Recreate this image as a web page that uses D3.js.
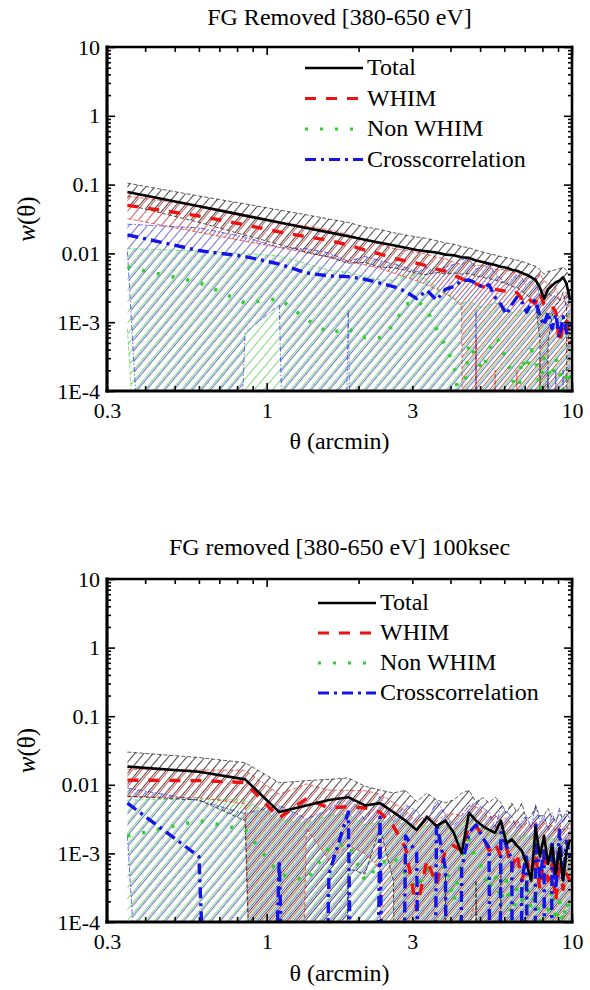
<!DOCTYPE html>
<html>
<head>
<meta charset="utf-8">
<script src="https://cdn.jsdelivr.net/npm/d3@7"></script>
<style>
  body { margin: 0; background: #fff; }
  text { font-family: "Liberation Serif", "Times New Roman", serif; fill: #000; }
</style>
</head>
<body>
<div id="chart"></div>
<script>
// angular bins (arcmin), shared by both panels
var theta = [0.35, 0.60, 0.85, 1.10, 1.35, 1.60, 1.85, 2.10, 2.35, 2.60, 2.85, 3.10, 3.35, 3.60, 3.85, 4.10, 4.35, 4.60, 4.85, 5.10,
  5.35, 5.60, 5.85, 6.10, 6.35, 6.60, 6.85, 7.10, 7.35, 7.60, 7.85, 8.10, 8.35, 8.60, 8.85, 9.10, 9.35, 9.60, 9.85];

// ---- top panel: FG Removed [380-650 eV]
var titleA = "FG Removed [380-650 eV]";
var totalA = [0.078, 0.0483, 0.0354, 0.0281, 0.0234, 0.0202, 0.0177, 0.0158, 0.0143, 0.0131, 0.0121, 0.0112, 0.0107, 0.0103, 0.0096, 0.0094, 0.0088, 0.0086, 0.0079, 0.0075,
  0.0071, 0.0068, 0.0064, 0.0062, 0.0058, 0.0056, 0.0052, 0.0049, 0.0045, 0.0041, 0.0032, 0.0022, 0.0030, 0.0034, 0.0038, 0.0040, 0.0045, 0.0036, 0.0021];
var totalSigA = [0.027, 0.020, 0.017, 0.0146, 0.013, 0.0114, 0.0105, 0.0084, 0.008, 0.0069, 0.0064, 0.0061, 0.0058, 0.0050, 0.0046, 0.0042, 0.0038, 0.0035, 0.0032, 0.0030,
  0.0028, 0.0027, 0.0026, 0.0025, 0.0025, 0.0024, 0.0024, 0.0024, 0.0023, 0.0024, 0.0026, 0.0028, 0.0025, 0.0022, 0.0020, 0.0020, 0.0018, 0.0020, 0.0022];
var whimA = [0.050, 0.035, 0.026, 0.0205, 0.0175, 0.0155, 0.0132, 0.0112, 0.0098, 0.0085, 0.0078, 0.0072, 0.0066, 0.0059, 0.0055, 0.0048, 0.0043, 0.0038, 0.0036, 0.0033,
  0.0031, 0.0030, 0.0029, 0.0028, 0.0026, 0.0027, 0.0022, 0.0025, 0.0020, 0.0019, 0.0027, 0.0018, 0.0016, 0.0017, 0.0014, 0.0005, 0.0009, 0.0011, 0.0005];
var whimSigA = [0.018, 0.0148, 0.011, 0.0083, 0.0073, 0.0066, 0.0056, 0.0044, 0.0038, 0.0033, 0.0033, 0.0032, 0.0031, 0.0029, 0.0029, 0.0026, 0.0026, 0.0040, 0.0030, 0.0035,
  0.0032, 0.0028, 0.0030, 0.0029, 0.0028, 0.0025, 0.0026, 0.0024, 0.0025, 0.0022, 0.0024, 0.0022, 0.0020, 0.0019, 0.0018, 0.0016, 0.0017, 0.0016, 0.0015];
var nonA = [0.0063, 0.0038, 0.0019, 0.0022, 0.0011, 0.0007, 0.0008, 0.0006, 0.0006, 0.0009, 0.0018, 0.0021, 0.0015, 0.0008, 0.00045, 0.00025, 0.00004, 0.0005, 0.0003, 0.0002,
  0.0004, 0.0006, 0.0005, 0.00025, 0.0002, 0.00005, 0.0003, 0.0002, 0.0004, 0.0003, 0.0001, 0.0003, 0.0002, 0.00015, 0.0003, 0.0002, 0.0001, 0.0002, 0.00015];
var nonSigA = [0.0055, 0.0070, 0.0080, 0.0070, 0.0060, 0.0050, 0.0045, 0.0040, 0.0035, 0.0032, 0.0030, 0.0028, 0.0026, 0.0024, 0.0022, 0.0020, 0.0018, 0.0016, 0.0015, 0.0014,
  0.0014, 0.0013, 0.0013, 0.0013, 0.0012, 0.0012, 0.0012, 0.0012, 0.0011, 0.0011, 0.0011, 0.0011, 0.0011, 0.0010, 0.0010, 0.0010, 0.0010, 0.0010, 0.0010];
var crossA = [0.0186, 0.0110, 0.0090, 0.0070, 0.0052, 0.0047, 0.0046, 0.0042, 0.0037, 0.0033, 0.0028, 0.0022, 0.0029, 0.0021, 0.0030, 0.0033, 0.0040, 0.0041, 0.0037, 0.0032,
  0.0035, 0.0023, 0.0018, 0.0013, 0.0018, 0.0023, 0.0020, 0.0014, 0.0019, 0.0021, 0.0012, 0.0009, 0.0014, 0.0008, 0.0013, 0.0006, 0.0012, 0.0007, 0.0010];
var crossSigA = [0.0080, 0.0125, 0.0083, 0.0052, 0.0065, 0.0055, 0.0031, 0.0048, 0.0042, 0.0038, 0.0035, 0.0032, 0.0034, 0.0030, 0.0034, 0.0036, 0.0042, 0.0042, 0.0022, 0.0034,
  0.0036, 0.0028, 0.0025, 0.0022, 0.0024, 0.0026, 0.0024, 0.0020, 0.0022, 0.0024, 0.0011, 0.0018, 0.0012, 0.0016, 0.0011, 0.0015, 0.0010, 0.0016, 0.0014];

// ---- bottom panel: FG removed [380-650 eV] 100ksec
var titleB = "FG removed [380-650 eV] 100ksec";
var totalB = [0.0184, 0.0155, 0.0120, 0.0040, 0.0050, 0.0060, 0.0066, 0.0050, 0.0054, 0.0040, 0.0030, 0.0022, 0.0034, 0.0025, 0.0030, 0.0020, 0.0010, 0.0039, 0.0030, 0.0025,
  0.0022, 0.0020, 0.0030, 0.0014, 0.0016, 0.0013, 0.0011, 0.0007, 0.0004, 0.0024, 0.0009, 0.0018, 0.0007, 0.0013, 0.0005, 0.0012, 0.0004, 0.0011, 0.0016];
var totalSigB = [0.0116, 0.0095, 0.0090, 0.0067, 0.0065, 0.0060, 0.0060, 0.0045, 0.0030, 0.0036, 0.0053, 0.0035, 0.0042, 0.0035, 0.0025, 0.0040, 0.0065, 0.0044, 0.0026, 0.0040,
  0.0033, 0.0046, 0.0025, 0.0025, 0.0038, 0.0027, 0.0043, 0.0023, 0.0031, 0.0024, 0.0026, 0.0018, 0.0038, 0.0020, 0.0025, 0.0026, 0.0029, 0.0031, 0.0024];
var whimB = [0.0117, 0.0115, 0.0108, 0.0033, 0.0063, 0.0046, 0.0048, 0.0046, 0.0040, 0.0025, 0.0012, 0.00015, 0.0008, 0.00035, 0.0011, 0.0013, 0.0011, 0.0025, 0.0025, 0.0018,
  0.0011, 0.0014, 0.0009, 0.0012, 0.0006, 0.0010, 0.0004, 0.0008, 0.0005, 0.0010, 0.0003, 0.0009, 0.0004, 0.0007, 0.0002, 0.0008, 0.0003, 0.0005, 0.0004];
var whimSigB = [0.0050, 0.0050, 0.0055, 0.0040, 0.0040, 0.0038, 0.0035, 0.0036, 0.0034, 0.0030, 0.0030, 0.0028, 0.0028, 0.0026, 0.0026, 0.0025, 0.0024, 0.0024, 0.0023, 0.0022,
  0.0022, 0.0022, 0.0021, 0.0021, 0.0021, 0.0021, 0.0020, 0.0020, 0.0020, 0.0020, 0.0020, 0.0020, 0.0020, 0.0019, 0.0019, 0.0019, 0.0019, 0.0019, 0.0019];
var nonB = [0.0018, 0.0030, 0.0022, 0.0005, 0.0004, 0.0012, 0.0014, 0.0004, 0.0007, 0.0009, 0.0005, 0.0003, 0.0006, 0.0004, 0.0007, 0.0002, 0.0009, 0.0016, 0.0008, 0.0006,
  0.0003, 0.0005, 0.0002, 0.0004, 0.0001, 0.0003, 0.0002, 0.0004, 0.00015, 0.0003, 0.0001, 0.0002, 0.00015, 0.0003, 0.0001, 0.0002, 0.0001, 0.0002, 0.00015];
var nonSigB = [0.0042, 0.0032, 0.0038, 0.0026, 0.0024, 0.0024, 0.0023, 0.0022, 0.0022, 0.0021, 0.0021, 0.0020, 0.0020, 0.0019, 0.0019, 0.0019, 0.0018, 0.0018, 0.0018, 0.0017,
  0.0017, 0.0017, 0.0016, 0.0016, 0.0016, 0.0016, 0.0015, 0.0015, 0.0015, 0.0015, 0.0014, 0.0014, 0.0014, 0.0014, 0.0014, 0.0013, 0.0013, 0.0013, 0.0013];
var crossB = [0.0054, 0.0009, -0.0010, 0.0008, -0.0008, 0.0005, 0.0040, -0.0006, 0.0034, -0.0005, 0.0018, 0.0010, -0.0004, 0.0028, 0.0006, -0.0005, 0.0006, 0.0020, 0.0026, 0.0017,
  0.0012, -0.0004, 0.0020, 0.0013, 0.0008, -0.0004, 0.0004, 0.0010, -0.0003, 0.0026, 0.0004, 0.0012, -0.0003, 0.0015, 0.0003, 0.0022, 0.0004, 0.0015, 0.0009];
var crossSigB = [0.0036, 0.0050, 0.0048, 0.0042, 0.0040, 0.0038, 0.0036, 0.0036, 0.0034, 0.0034, 0.0033, 0.0032, 0.0032, 0.0031, 0.0031, 0.0030, 0.0030, 0.0030, 0.0029, 0.0029,
  0.0028, 0.0028, 0.0028, 0.0027, 0.0027, 0.0027, 0.0026, 0.0026, 0.0026, 0.0025, 0.0025, 0.0025, 0.0025, 0.0024, 0.0024, 0.0024, 0.0024, 0.0023, 0.0023];

// axis tick labels
var xLabelVals = [0.3, 1, 3, 10];
var xLabels = ["0.3", "1", "3", "10"];
var yLabelVals = [10, 1, 0.1, 0.01, 0.001, 0.0001];
var yLabels = ["10", "1", "0.1", "0.01", "1E-3", "1E-4"];

// SVG area
var svgWidth = 590;
var svgHeight = 990;
var margin = { left: 107 };
var width = 465;

var svg = d3.select("#chart").append("svg")
  .attr("width", svgWidth)
  .attr("height", svgHeight);

var defs = svg.append("defs");

// styles for each series (legend order)
var styles = {
  total: { label: "Total", color: "#000000", width: 2.6, dash: null, bound: "4,2", hatch: "#1a1a1a", hop: 0.8, off: 0 },
  whim: { label: "WHIM", color: "#ee1111", width: 3.4, dash: "11,10", bound: "4,2", hatch: "#b01818", hop: 0.7, off: 1.8 },
  non: { label: "Non WHIM", color: "#2ed02e", width: 3.6, dash: "3,12", bound: "4,2", hatch: "#3cc43c", hop: 0.65, off: 3.6 },
  cross: { label: "Crosscorrelation", color: "#1414e6", width: 3.4, dash: "11,5,3,5", bound: "5,2,1.5,2", hatch: "#2424c0", hop: 0.65, off: 5.2 }
};
var legendOrder = ["total", "whim", "non", "cross"];
var bandOrder = ["non", "cross", "whim", "total"];
var lineOrder = ["non", "whim", "cross", "total"];

// hatch patterns ( /// )
Object.keys(styles).forEach(function(k) {
  var s = styles[k];
  defs.append("pattern")
    .attr("id", "hatch-" + k)
    .attr("patternUnits", "userSpaceOnUse")
    .attr("width", 7)
    .attr("height", 7)
    .attr("patternTransform", `rotate(40) translate(${s.off}, 0)`)
    .append("line")
    .attr("x1", 0.5).attr("y1", 0)
    .attr("x2", 0.5).attr("y2", 7)
    .attr("stroke", s.hatch)
    .attr("stroke-width", 1)
    .attr("opacity", s.hop);
});

var panels = [
  { id: "a", title: titleA, top: 47, height: 344, titleY: 25, labelY: 449,
    legendX: 305, legendY: 75, legendDy: 30.5,
    values: { total: totalA, whim: whimA, non: nonA, cross: crossA },
    sigmas: { total: totalSigA, whim: whimSigA, non: nonSigA, cross: crossSigA } },
  { id: "b", title: titleB, top: 579, height: 343, titleY: 555, labelY: 981,
    legendX: 318, legendY: 610, legendDy: 30,
    values: { total: totalB, whim: whimB, non: nonB, cross: crossB },
    sigmas: { total: totalSigB, whim: whimSigB, non: nonSigB, cross: crossSigB } }
];

// values <= 0 cannot be shown on a log axis: push them far below the frame
function pos(v) {
  return v > 0 ? v : 1e-20;
}

function drawPanel(p) {
  var xScale = d3.scaleLog().domain([0.3, 10]).range([0, width]);
  var yScale = d3.scaleLog().domain([1e-4, 10]).range([p.height, 0]);

  var chartGroup = svg.append("g")
    .attr("transform", `translate(${margin.left}, ${p.top})`);

  defs.append("clipPath")
    .attr("id", "clip-" + p.id)
    .append("rect")
    .attr("width", width)
    .attr("height", p.height);

  var plot = chartGroup.append("g").attr("clip-path", `url(#clip-${p.id})`);

  var rows = {};
  Object.keys(p.values).forEach(function(k) {
    rows[k] = theta.map(function(t, i) {
      var v = p.values[k][i];
      var s = p.sigmas[k][i];
      return { t: t, v: v, lo: v - s, hi: v + s };
    });
  });

  var area = d3.area()
    .x(d => xScale(d.t))
    .y0(d => yScale(pos(d.lo)))
    .y1(d => yScale(pos(d.hi)));

  var lineOf = function(field) {
    return d3.line()
      .x(d => xScale(d.t))
      .y(d => yScale(pos(d[field])));
  };

  // hatched error bands
  bandOrder.forEach(function(k) {
    plot.append("path")
      .datum(rows[k])
      .attr("d", area)
      .attr("fill", `url(#hatch-${k})`)
      .attr("stroke", "none");
  });

  // thin band edges
  bandOrder.forEach(function(k) {
    ["lo", "hi"].forEach(function(f) {
      plot.append("path")
        .datum(rows[k])
        .attr("d", lineOf(f))
        .attr("fill", "none")
        .attr("stroke", styles[k].color)
        .attr("stroke-width", 0.8)
        .attr("stroke-dasharray", styles[k].bound)
        .attr("opacity", 0.8);
    });
  });

  // main curves
  lineOrder.forEach(function(k) {
    plot.append("path")
      .datum(rows[k])
      .attr("d", lineOf("v"))
      .attr("fill", "none")
      .attr("stroke", styles[k].color)
      .attr("stroke-width", styles[k].width)
      .attr("stroke-dasharray", styles[k].dash)
      .attr("stroke-linejoin", "round");
  });

  // inward ticks on all four sides
  var xTicks = xScale.ticks();
  var yTicks = yScale.ticks();
  var xMajor = [1, 10];
  var yMajor = yLabelVals;
  var xMin = xTicks.filter(d => xMajor.indexOf(d) < 0);
  var yMin = yTicks.filter(d => !yMajor.some(m => Math.abs(m - d) / m < 1e-6));

  var tickLayers = [
    [d3.axisBottom(xScale).tickValues(xMin).tickSize(-5), `translate(0, ${p.height})`],
    [d3.axisBottom(xScale).tickValues(xMajor).tickSize(-8), `translate(0, ${p.height})`],
    [d3.axisTop(xScale).tickValues(xMin).tickSize(-5), null],
    [d3.axisTop(xScale).tickValues(xMajor).tickSize(-8), null],
    [d3.axisLeft(yScale).tickValues(yMin).tickSize(-4), null],
    [d3.axisLeft(yScale).tickValues(yMajor).tickSize(-8), null],
    [d3.axisRight(yScale).tickValues(yMin).tickSize(-4), `translate(${width}, 0)`],
    [d3.axisRight(yScale).tickValues(yMajor).tickSize(-8), `translate(${width}, 0)`]
  ];
  tickLayers.forEach(function(layer) {
    var g = chartGroup.append("g")
      .call(layer[0].tickFormat(""));
    if (layer[1]) g.attr("transform", layer[1]);
    g.select(".domain").remove();
    g.selectAll("line").attr("stroke", "#000").attr("stroke-width", 1.6);
  });

  // tick labels
  var xLab = chartGroup.append("g")
    .attr("transform", `translate(0, ${p.height})`)
    .call(d3.axisBottom(xScale).tickValues(xLabelVals).tickSize(0).tickPadding(11)
      .tickFormat((d, i) => xLabels[i]));
  xLab.select(".domain").remove();
  xLab.attr("font-family", null).attr("font-size", null);
  xLab.selectAll("text").style("font-size", "22px");

  var yLab = chartGroup.append("g")
    .call(d3.axisLeft(yScale).tickValues(yLabelVals).tickSize(0).tickPadding(7)
      .tickFormat((d, i) => yLabels[i]));
  yLab.select(".domain").remove();
  yLab.attr("font-family", null).attr("font-size", null);
  yLab.selectAll("text").style("font-size", "22px");

  // frame
  var frame = [
    [0, 0, width, 0, 2.4],
    [width, 0, width, p.height, 2.6],
    [0, p.height, width, p.height, 3.2],
    [0, 0, 0, p.height, 3.2]
  ];
  chartGroup.selectAll(".frame")
    .data(frame)
    .enter()
    .append("line")
    .attr("x1", d => d[0]).attr("y1", d => d[1])
    .attr("x2", d => d[2]).attr("y2", d => d[3])
    .attr("stroke", "#000")
    .attr("stroke-width", d => d[4])
    .attr("stroke-linecap", "square");

  // title and axis labels
  svg.append("text")
    .attr("x", margin.left + width / 2)
    .attr("y", p.titleY)
    .attr("text-anchor", "middle")
    .style("font-size", "24px")
    .text(p.title);

  svg.append("text")
    .attr("x", margin.left + width / 2)
    .attr("y", p.labelY)
    .attr("text-anchor", "middle")
    .style("font-size", "24px")
    .text("θ (arcmin)");

  var yTitle = svg.append("text")
    .attr("transform", `translate(35, ${p.top + p.height / 2}) rotate(-90)`)
    .attr("text-anchor", "middle")
    .style("font-size", "25px");
  yTitle.append("tspan").style("font-style", "italic").text("w");
  yTitle.append("tspan").text("(θ)");

  // legend
  var legend = svg.append("g");
  legendOrder.forEach(function(k, i) {
    var s = styles[k];
    var base = p.legendY + i * p.legendDy;
    legend.append("line")
      .attr("x1", p.legendX).attr("x2", p.legendX + 58)
      .attr("y1", base - 7).attr("y2", base - 7)
      .attr("stroke", s.color)
      .attr("stroke-width", k === "total" ? 2.4 : 3.2)
      .attr("stroke-dasharray", s.dash);
    legend.append("text")
      .attr("x", p.legendX + 62)
      .attr("y", base)
      .style("font-size", "24px")
      .text(s.label);
  });
}

panels.forEach(drawPanel);
</script>
</body>
</html>
